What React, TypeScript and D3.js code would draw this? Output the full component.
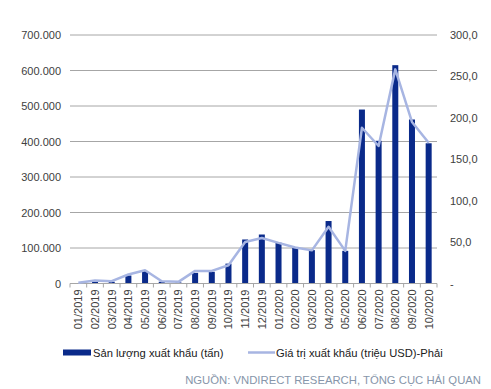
import React from 'react';
import * as d3 from 'd3';

// months shown on the x axis
const months = [
  '01/2019', '02/2019', '03/2019', '04/2019', '05/2019', '06/2019', '07/2019',
  '08/2019', '09/2019', '10/2019', '11/2019', '12/2019', '01/2020', '02/2020',
  '03/2020', '04/2020', '05/2020', '06/2020', '07/2020', '08/2020', '09/2020', '10/2020',
];
// export volume (tons) - left axis
const volume = [
  1000, 5000, 5000, 22500, 35000, 5000, 3000, 30000, 33000, 56000, 124000,
  138000, 115000, 100000, 94000, 176000, 92000, 490000, 402000, 615000, 462000, 395000,
];
// export value (million USD) - right axis
const value = [
  1, 3.6, 2.8, 10.9, 16, 2.8, 2, 15.2, 15.2, 22, 50, 55, 49, 43.5, 40, 68.5,
  39.4, 188, 166, 258.5, 195, 170,
];
const leftTicks = [0, 100000, 200000, 300000, 400000, 500000, 600000, 700000];
const rightTicks = [0, 50, 100, 150, 200, 250, 300];

const W = 491;
const H = 389;
const left = 70;
const right = 437;
const top = 35;
const bottom = 283.5;
const font = '"Liberation Sans", Arial, sans-serif';
const barColor = '#0a2a8a';
const lineColor = '#a7b5e2';

export default function App() {
  const x = d3.scaleBand<string>().domain(months).range([left, right]).paddingInner(0.64).paddingOuter(0.32);
  const yL = d3.scaleLinear().domain([0, 700000]).range([bottom, top]);
  const yR = d3.scaleLinear().domain([0, 300]).range([bottom, top]);
  const fmtL = (v: number) => d3.format(',')(v).replace(/,/g, '.');
  const fmtR = (v: number) => (v === 0 ? '-' : v.toFixed(1).replace('.', ','));
  const cx = (m: string) => (x(m) as number) + x.bandwidth() / 2;

  const line = d3
    .line<number>()
    .x((_, i) => cx(months[i]))
    .y((d) => yR(d));

  const step = x.step();

  return (
    <svg width={W} height={H} style={{ position: 'absolute', left: 0, top: 0, background: '#fff' }} fontFamily={font}>
      {leftTicks.map((t) => (
        <g key={t}>
          {t > 0 && <line x1={left} x2={right} y1={yL(t)} y2={yL(t)} stroke="#a6a6a6" strokeWidth={1} />}
          <text x={61} y={yL(t) + 4} textAnchor="end" fontSize={11} fill="#404040">
            {t === 0 ? '0' : fmtL(t)}
          </text>
        </g>
      ))}
      {rightTicks.map((t) => (
        <text key={t} x={450} y={yR(t) + 4} textAnchor="start" fontSize={11} fill="#404040">
          {fmtR(t)}
        </text>
      ))}
      {months.map((m, i) => (
        <rect key={m} x={x(m)} y={yL(volume[i])} width={x.bandwidth()} height={bottom - yL(volume[i])} fill={barColor} />
      ))}
      <line x1={left} x2={right} y1={bottom} y2={bottom} stroke="#a6a6a6" strokeWidth={1} />
      {d3.range(months.length + 1).map((i) => (
        <line key={i} x1={left + i * step} x2={left + i * step} y1={bottom} y2={bottom + 4} stroke="#a6a6a6" strokeWidth={1} />
      ))}
      <path d={line(value) || ''} fill="none" stroke={lineColor} strokeWidth={2.5} strokeLinejoin="round" />
      {months.map((m) => (
        <text
          key={m}
          transform={`translate(${cx(m) + 4},${bottom + 6}) rotate(-90)`}
          textAnchor="end"
          fontSize={11}
          fill="#404040"
        >
          {m}
        </text>
      ))}
      <rect x={63} y={349.5} width={28} height={6} fill={barColor} />
      <text x={93} y={357} fontSize={11.2} fill="#202020">Sản lượng xuất khẩu (tấn)</text>
      <line x1={248} x2={275} y1={352.5} y2={352.5} stroke={lineColor} strokeWidth={2.5} />
      <text x={276} y={357} fontSize={11.2} fill="#202020">Giá trị xuất khẩu (triệu USD)-Phải</text>
      <text x={481} y={384} textAnchor="end" fontSize={11.3} fill="#8796aa">
        NGUỒN: VNDIRECT RESEARCH, TỔNG CỤC HẢI QUAN
      </text>
    </svg>
  );
}
